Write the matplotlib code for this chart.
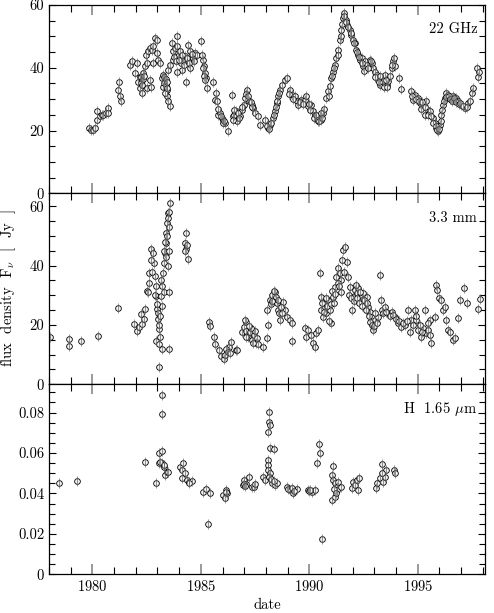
import numpy as np
import matplotlib
matplotlib.use("Agg")
import matplotlib.pyplot as plt
from matplotlib.ticker import MultipleLocator, FormatStrFormatter

plt.rcParams['font.family'] = ['cmr10', 'DejaVu Serif']
plt.rcParams['mathtext.fontset'] = 'cm'
plt.rcParams['axes.formatter.use_mathtext'] = True

# (date, flux density)
obs_22ghz = [
    (1979.85, 20.8), (1979.93, 20.3), (1980.01, 20.2), (1980.1, 20.8), (1980.2, 23.4), (1980.22, 26.1),
    (1980.35, 24.5), (1980.43, 25.0), (1980.5, 24.8), (1980.65, 25.5), (1980.73, 27.1), (1980.74, 25.5),
    (1981.19, 33.0), (1981.24, 35.3), (1981.27, 30.9), (1981.3, 29.3),
    (1981.73, 40.9), (1981.81, 42.0), (1982.04, 41.5), (1981.96, 38.3), (1982.19, 37.2), (1982.12, 35.6),
    (1982.19, 33.5), (1982.27, 36.2), (1982.35, 38.3), (1982.42, 40.4), (1982.5, 41.5), (1982.47, 44.1),
    (1982.58, 45.2), (1982.66, 46.3), (1982.73, 45.7), (1982.81, 46.8), (1982.89, 49.5), (1982.96, 48.9),
    (1982.5, 33.5), (1982.66, 36.2), (1982.69, 34.0), (1982.81, 41.5), (1982.96, 44.7), (1983.04, 42.5),
    (1983.12, 41.5), (1983.19, 36.7), (1983.27, 37.8), (1983.35, 36.2), (1983.27, 34.0), (1983.42, 33.0),
    (1983.45, 30.9), (1983.58, 27.9), (1983.5, 29.3), (1983.5, 39.4), (1983.58, 40.9), (1983.65, 47.9),
    (1983.7, 45.2), (1983.73, 42.5), (1983.81, 46.3), (1983.91, 50.0), (1983.88, 46.8), (1983.96, 43.6),
    (1984.04, 45.2), (1984.07, 41.5), (1984.11, 39.4), (1983.91, 38.8), (1984.19, 42.5), (1984.27, 43.6),
    (1984.31, 35.6), (1984.34, 41.5), (1984.42, 47.3), (1984.5, 45.2), (1984.57, 42.5), (1984.65, 43.1),
    (1984.73, 44.7), (1984.8, 44.1), (1984.99, 48.4), (1985.08, 42.5), (1985.14, 40.4), (1985.19, 38.3),
    (1985.23, 36.7), (1985.3, 33.5), (1985.57, 35.6), (1985.7, 31.9), (1985.65, 29.8), (1985.73, 29.3),
    (1985.8, 25.0), (1985.88, 25.5), (1985.96, 23.9), (1986.03, 23.4), (1986.11, 22.3), (1986.27, 19.7),
    (1986.42, 31.4), (1986.46, 24.5), (1986.53, 25.0), (1986.62, 26.1), (1986.65, 22.9), (1986.8, 24.5),
    (1986.88, 26.6), (1986.99, 28.2), (1987.11, 33.0), (1987.14, 30.3), (1987.23, 29.3), (1987.34, 28.2),
    (1987.42, 27.1), (1987.49, 25.5), (1987.64, 24.5), (1987.72, 21.8), (1987.95, 23.4), (1988.1, 20.8),
    (1988.18, 21.8), (1988.33, 23.9), (1988.41, 26.1), (1988.49, 28.7), (1988.57, 30.9), (1988.64, 33.0),
    (1988.72, 34.6), (1988.87, 36.2), (1988.95, 36.7), (1989.1, 33.0), (1989.18, 31.4), (1989.33, 30.9),
    (1989.41, 29.3), (1989.49, 28.2), (1989.64, 29.8), (1989.79, 29.8), (1989.87, 30.9), (1989.95, 27.7),
    (1990.1, 28.2), (1990.18, 26.1), (1990.25, 25.0), (1990.33, 23.9), (1990.41, 22.9), (1990.48, 24.5),
    (1990.56, 23.4), (1990.64, 25.5), (1990.79, 30.3), (1990.87, 32.5), (1990.95, 34.1), (1991.02, 36.7),
    (1991.1, 38.8), (1991.18, 41.0), (1991.25, 43.1), (1991.33, 45.8), (1991.41, 48.9), (1991.48, 52.1),
    (1991.56, 55.9), (1991.61, 57.4), (1991.67, 55.3), (1991.76, 53.7), (1991.87, 52.1), (1991.94, 50.5),
    (1992.02, 48.9), (1992.1, 47.9), (1992.17, 45.8), (1992.25, 44.2), (1992.33, 42.6), (1992.41, 43.1),
    (1992.48, 40.4), (1992.56, 42.0), (1992.64, 41.0), (1992.79, 42.6), (1992.87, 41.5), (1992.94, 39.9),
    (1993.02, 38.8), (1993.1, 37.8), (1993.17, 36.2), (1993.25, 34.6), (1993.33, 36.7), (1993.41, 35.7),
    (1993.48, 37.8), (1993.56, 34.6), (1993.63, 35.7), (1993.79, 39.9), (1993.86, 42.0), (1993.94, 40.4),
    (1994.13, 36.7), (1994.22, 33.2), (1994.71, 32.5), (1994.79, 29.8), (1994.86, 31.4), (1995.02, 30.3),
    (1995.09, 28.7), (1995.25, 27.7), (1995.32, 25.0), (1995.4, 29.3), (1995.48, 26.6), (1995.55, 26.1),
    (1995.71, 23.9), (1995.78, 22.4), (1995.86, 20.8), (1995.94, 19.7), (1996.02, 21.8), (1996.09, 25.0),
    (1996.17, 28.2), (1996.25, 30.3), (1996.32, 31.9), (1996.4, 31.4), (1996.55, 30.3), (1996.63, 30.9),
    (1996.71, 29.8), (1996.78, 30.3), (1996.86, 29.3), (1997.01, 28.2), (1997.17, 27.1), (1997.32, 28.7),
    (1997.48, 31.9), (1997.55, 33.5), (1997.75, 39.9), (1997.78, 37.0), (1997.8, 38.8),
    # denser stretches
    (1990.7, 27.0), (1990.9, 31.0), (1991.05, 37.5), (1991.15, 40.0), (1991.3, 44.0), (1991.45, 50.0),
    (1991.52, 54.0), (1991.58, 56.5), (1991.7, 54.5), (1991.8, 53.0), (1991.9, 51.0), (1992.05, 48.0),
    (1992.2, 45.0), (1992.3, 43.5), (1992.45, 41.5), (1992.52, 39.0), (1992.7, 40.0), (1992.85, 42.0),
    (1993.05, 37.0), (1993.2, 35.5), (1993.28, 37.5), (1993.45, 34.0), (1993.52, 36.0), (1993.6, 33.8),
    (1993.7, 37.5), (1993.82, 41.0), (1993.9, 43.0),
    (1994.75, 31.0), (1994.9, 30.0), (1995.05, 29.5), (1995.15, 27.0), (1995.2, 29.0), (1995.35, 27.5),
    (1995.45, 25.0), (1995.6, 24.5), (1995.68, 22.5), (1995.82, 21.5), (1995.9, 20.2), (1995.98, 20.5),
    (1996.05, 23.0), (1996.13, 26.5), (1996.2, 29.5), (1996.3, 30.8), (1996.45, 31.0), (1996.5, 30.0),
    (1996.6, 29.5), (1996.68, 30.5), (1996.75, 29.2), (1996.9, 28.5), (1996.95, 28.8), (1997.1, 27.8),
    (1997.25, 27.5), (1997.4, 29.5),
    (1988.05, 21.5), (1988.15, 20.5), (1988.25, 22.5), (1988.38, 25.0), (1988.45, 27.5), (1988.52, 29.5),
    (1988.6, 32.0), (1989.05, 31.5), (1989.25, 30.0), (1989.55, 29.0), (1989.7, 28.5), (1990.0, 28.5),
    (1990.05, 26.5), (1990.22, 24.0), (1990.3, 25.0), (1990.38, 23.5), (1990.45, 23.0), (1990.52, 25.5),
    (1990.6, 24.0),
    (1982.22, 35.0), (1982.25, 37.0), (1982.3, 34.5), (1982.32, 36.5), (1982.38, 37.5), (1982.28, 32.0),
    (1983.3, 35.0), (1983.32, 37.0), (1983.38, 34.5), (1983.4, 36.5), (1983.42, 35.5), (1983.36, 32.0),
    (1983.46, 33.5), (1983.78, 43.5), (1983.85, 42.0), (1984.0, 42.5), (1984.15, 44.0), (1984.22, 41.0),
    (1984.38, 43.0), (1984.45, 41.5), (1984.52, 40.0), (1984.6, 44.5), (1984.7, 42.0),
    (1985.05, 44.0), (1985.1, 40.0), (1985.16, 37.5), (1985.2, 36.0), (1985.78, 27.0), (1985.92, 24.5),
    (1986.0, 22.5), (1986.06, 23.0), (1986.5, 23.5), (1986.55, 26.5), (1986.7, 25.5), (1986.75, 24.0),
    (1986.92, 27.5), (1987.05, 30.5), (1987.08, 31.5), (1987.18, 31.0), (1987.3, 29.0), (1987.38, 27.5),
]

obs_3mm = [
    (1978.05, 15.8), (1978.92, 15.3), (1978.92, 12.8), (1979.49, 14.7), (1980.26, 16.2), (1981.2, 25.8),
    (1981.92, 20.3), (1982.07, 18.0), (1982.15, 19.2), (1982.22, 23.7), (1982.3, 20.3), (1982.38, 22.0),
    (1982.42, 25.3), (1982.53, 31.5), (1982.58, 31.0), (1982.6, 37.6), (1982.68, 45.5), (1982.79, 44.3),
    (1982.84, 41.0), (1982.88, 36.5), (1982.92, 33.2), (1982.95, 29.8), (1982.99, 25.3), (1983.04, 22.0),
    (1983.07, 18.6), (1982.92, 14.7), (1983.07, 13.6), (1983.07, 5.8), (1983.22, 11.9), (1983.53, 11.9),
    (1983.15, 29.8), (1983.22, 33.2), (1983.25, 37.6), (1983.3, 41.0), (1983.35, 44.3), (1983.38, 47.7),
    (1983.41, 51.0), (1983.45, 54.4), (1983.5, 57.8), (1983.56, 61.1), (1983.22, 26.5), (1983.3, 31.0),
    (1983.53, 31.0), (1983.0, 27.0), (1983.02, 24.0), (1983.05, 20.0), (1983.1, 16.0), (1983.12, 23.0),
    (1983.18, 35.0), (1983.28, 45.0), (1983.33, 48.0), (1983.4, 43.0), (1983.45, 50.0), (1983.48, 56.0),
    (1983.52, 53.0), (1983.55, 58.0), (1983.55, 45.0), (1983.5, 40.0), (1982.75, 38.0), (1982.7, 42.0),
    (1982.63, 34.0), (1982.9, 30.0),
    (1984.3, 51.0), (1984.27, 47.7), (1984.33, 45.5), (1984.42, 42.1), (1984.25, 45.0), (1984.35, 47.0),
    (1985.37, 20.9), (1985.4, 19.8), (1985.6, 15.8), (1985.63, 13.6), (1985.83, 11.4), (1985.91, 9.7),
    (1986.06, 8.6), (1986.22, 10.8), (1986.3, 12.5), (1986.37, 14.2), (1986.6, 11.4), (1986.68, 11.4),
    (1986.1, 10.0), (1986.15, 12.0), (1986.25, 11.0), (1986.35, 10.5),
    (1986.91, 17.5), (1986.99, 19.2), (1987.06, 20.9), (1987.03, 21.7), (1987.1, 18.0), (1987.18, 16.0),
    (1987.25, 17.5), (1987.35, 15.0), (1987.45, 16.5), (1987.55, 14.0), (1987.62, 13.5), (1987.5, 18.0),
    (1987.3, 19.0), (1987.88, 12.7), (1988.03, 15.5), (1988.1, 20.0), (1988.03, 25.0), (1988.18, 28.4),
    (1988.26, 30.1), (1988.41, 31.2), (1988.49, 27.3), (1988.57, 25.0), (1988.64, 21.7), (1988.8, 27.9),
    (1988.87, 25.0), (1988.95, 22.8), (1989.1, 21.7), (1989.18, 20.6), (1989.21, 14.7),
    (1989.8, 18.9), (1989.87, 16.1), (1989.95, 18.3), (1990.1, 16.6), (1990.18, 13.8), (1990.26, 12.7),
    (1990.33, 17.2), (1990.41, 18.3),
    (1990.49, 37.4), (1990.53, 29.5), (1990.56, 25.0), (1990.64, 22.8), (1990.72, 26.2), (1990.79, 23.9),
    (1990.87, 28.4), (1990.95, 25.0), (1991.02, 20.6), (1991.1, 29.5), (1991.18, 32.9), (1991.25, 36.3),
    (1991.33, 39.1), (1991.41, 37.4), (1991.48, 35.2), (1991.56, 45.3), (1991.64, 46.4), (1991.72, 41.3),
    (1991.79, 36.3), (1991.87, 32.9), (1991.95, 25.0), (1992.02, 29.5), (1992.1, 31.8), (1992.18, 30.7),
    (1992.25, 32.4), (1992.41, 28.4), (1992.48, 30.7), (1992.56, 27.3), (1992.64, 29.5), (1992.71, 26.2),
    (1992.79, 24.5), (1992.87, 22.8), (1992.94, 18.3), (1993.02, 21.7), (1993.17, 22.8), (1993.25, 36.8),
    (1993.3, 28.4), (1993.36, 25.0), (1993.48, 26.2), (1993.64, 23.9), (1993.79, 24.5), (1993.94, 22.8),
    (1994.1, 20.6), (1994.25, 19.4), (1994.4, 20.0), (1994.56, 25.0), (1994.63, 17.7), (1994.71, 21.7),
    (1994.86, 25.0), (1994.94, 21.7), (1995.02, 18.3), (1995.17, 16.1), (1995.25, 18.9), (1995.32, 25.0),
    (1995.4, 17.2), (1995.48, 18.3), (1995.55, 21.7), (1995.63, 13.8), (1995.79, 22.8), (1995.86, 33.5),
    (1995.9, 31.8), (1995.97, 29.0), (1996.09, 28.4), (1996.17, 25.0), (1996.25, 26.2), (1996.32, 21.7),
    (1996.4, 18.3), (1996.48, 17.7), (1996.63, 14.9), (1996.71, 15.5), (1996.86, 22.2), (1996.94, 28.4),
    (1997.14, 32.4), (1997.29, 27.3), (1997.78, 25.4), (1997.86, 28.6),
    # denser stretches
    (1990.6, 27.5), (1990.68, 24.5), (1990.75, 29.0), (1990.82, 26.5), (1990.9, 21.5), (1991.0, 27.0),
    (1991.05, 31.5), (1991.15, 27.5), (1991.2, 30.5), (1991.3, 34.0), (1991.38, 33.0), (1991.45, 31.0),
    (1991.52, 42.0), (1991.6, 38.0), (1991.85, 30.0), (1991.9, 29.0), (1992.05, 28.0), (1992.15, 33.5),
    (1992.22, 29.0), (1992.3, 27.5), (1992.35, 31.0), (1992.45, 26.5), (1992.52, 28.5), (1992.6, 25.0),
    (1992.68, 27.5), (1992.75, 23.0), (1992.82, 21.0), (1992.9, 20.0), (1992.98, 19.5), (1993.05, 24.0),
    (1993.1, 20.5), (1993.42, 24.0), (1993.55, 24.5), (1993.7, 23.0), (1993.85, 23.5), (1994.0, 22.0),
    (1994.15, 21.5), (1994.3, 20.5), (1994.5, 21.5), (1994.78, 20.0), (1994.9, 23.0), (1995.1, 20.0),
    (1995.2, 17.5), (1995.45, 20.5), (1995.58, 16.5),
    (1987.08, 16.0), (1987.2, 19.5), (1987.4, 13.8), (1987.58, 15.5), (1988.22, 27.0), (1988.3, 28.0),
    (1988.35, 31.5), (1988.45, 29.5), (1988.55, 28.5), (1988.6, 24.0), (1988.7, 26.0), (1988.75, 24.0),
]

obs_hband = [
    (1978.47, 0.0454), (1979.3, 0.0464), (1982.44, 0.0558), (1982.95, 0.045), (1983.08, 0.0599),
    (1983.08, 0.0553), (1983.19, 0.0887), (1983.19, 0.0792), (1983.23, 0.0612), (1983.2, 0.0549),
    (1983.11, 0.0557), (1983.3, 0.0532), (1983.34, 0.0491), (1983.42, 0.0508), (1983.5, 0.0508),
    (1983.3, 0.054),
    (1984.03, 0.0532), (1984.11, 0.0516), (1984.19, 0.0552), (1984.11, 0.0475), (1984.26, 0.05),
    (1984.37, 0.0467), (1984.46, 0.0458), (1984.57, 0.0463), (1984.45, 0.045),
    (1985.11, 0.0409), (1985.26, 0.042), (1985.41, 0.04), (1985.34, 0.0249),
    (1986.0, 0.0392), (1986.11, 0.0376), (1986.18, 0.0417), (1986.21, 0.04), (1986.15, 0.0405),
    (1986.95, 0.0442), (1986.99, 0.0467), (1987.1, 0.0447), (1987.23, 0.048), (1987.34, 0.0431),
    (1987.44, 0.0434), (1987.49, 0.0447), (1987.0, 0.0445), (1987.05, 0.0438),
    (1987.87, 0.048), (1987.95, 0.0467), (1988.1, 0.0566), (1988.1, 0.0541), (1988.15, 0.0805),
    (1988.15, 0.0755), (1988.18, 0.0739), (1988.1, 0.0706), (1988.18, 0.0623), (1988.36, 0.062),
    (1988.1, 0.0516), (1988.21, 0.05), (1988.3, 0.045), (1988.41, 0.0442), (1988.49, 0.0453),
    (1988.15, 0.048), (1988.25, 0.047), (1988.35, 0.046),
    (1988.95, 0.0431), (1989.1, 0.0417), (1989.26, 0.04), (1989.41, 0.042), (1989.0, 0.042),
    (1989.2, 0.0425), (1989.3, 0.041),
    (1989.95, 0.0417), (1990.11, 0.0409), (1990.26, 0.0417), (1990.0, 0.041), (1990.05, 0.0415),
    (1990.46, 0.0645), (1990.49, 0.0598), (1990.37, 0.055), (1990.57, 0.0173),
    (1991.08, 0.0536), (1991.03, 0.0491), (1991.11, 0.0467), (1991.18, 0.045), (1991.26, 0.0434),
    (1991.03, 0.0368), (1991.18, 0.0384), (1991.26, 0.0417), (1991.34, 0.0458), (1991.44, 0.0434),
    (1991.15, 0.042), (1991.22, 0.04),
    (1991.95, 0.0425), (1992.03, 0.0458), (1992.1, 0.0442), (1992.18, 0.0467), (1992.26, 0.0417),
    (1992.3, 0.0475),
    (1993.07, 0.0425), (1993.13, 0.045), (1993.26, 0.0475), (1993.33, 0.0546), (1993.41, 0.0458),
    (1993.49, 0.0483), (1993.53, 0.0516), (1993.33, 0.05), (1993.9, 0.0516), (1993.95, 0.05),
]

band_labels = ['22 GHz', '3.3 mm', r'H  1.65 $\mu$m']
year_ticks = [1980, 1985, 1990, 1995]

fig = plt.figure(figsize=(4.94, 6.13), dpi=100)
ax_top = fig.add_axes([0.0992, 0.6847, 0.8826, 0.3072])
ax_mid = fig.add_axes([0.0992, 0.3731, 0.8826, 0.3116], sharex=ax_top)
ax_bot = fig.add_axes([0.0992, 0.0631, 0.8826, 0.3100], sharex=ax_top)
axes = [ax_top, ax_mid, ax_bot]

ylims = [(0, 60), (0, 64.4), (0, 0.094)]
ymajor = [20, 20, 0.02]
yminor = [5, 5, 0.005]

for ax, obs, lab, yl, ymj, ymn in zip(axes, [obs_22ghz, obs_3mm, obs_hband],
                                      band_labels, ylims, ymajor, yminor):
    t, f = np.array(obs).T
    # open circle with the error bar drawn through it
    ax.plot(t, f, 'o', ms=4.1, mfc='#f2f2f2', mec='black', mew=0.6, zorder=2)
    ax.plot(t, f, '|', ms=6.5, color='#666666', mew=0.5, zorder=3)
    ax.set_ylim(*yl)
    ax.yaxis.set_major_locator(MultipleLocator(ymj))
    ax.yaxis.set_minor_locator(MultipleLocator(ymn))
    ax.yaxis.set_major_formatter(FormatStrFormatter('%g'))
    ax.xaxis.set_major_locator(MultipleLocator(5))
    ax.xaxis.set_minor_locator(MultipleLocator(1))
    ax.tick_params(which='both', direction='in', top=True, right=True, labelsize=10.5)
    ax.tick_params(axis='x', which='major', length=7, width=1.4, color='#999999')
    ax.tick_params(axis='x', which='minor', length=5, width=0.8)
    ax.tick_params(axis='y', which='major', length=5, width=0.8)
    ax.tick_params(axis='y', which='minor', length=4, width=0.8)
    for s in ax.spines.values():
        s.set_linewidth(0.9)
    ax.text(0.982, 0.872, lab, transform=ax.transAxes, ha='right', va='center', fontsize=10.5)

ax_top.set_xlim(1978.0, 1998.1)
ax_top.tick_params(labelbottom=False)
ax_mid.tick_params(labelbottom=False)
ax_bot.set_xticks(year_ticks)
ax_bot.set_xlabel('date', fontsize=10.5, labelpad=3)

fig.text(0.017, 0.53, r'flux  density  F$_\nu$  [  Jy  ]', rotation=90, ha='center', va='center',
         fontsize=10.5)

fig.savefig('out.png', dpi=100)
